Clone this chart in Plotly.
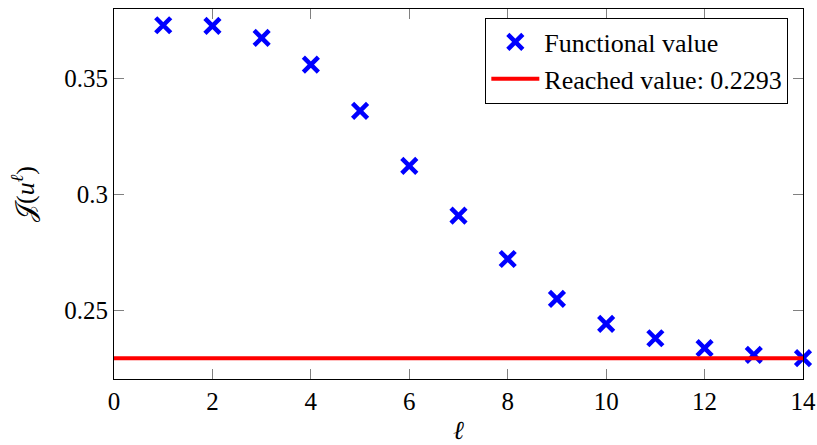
import plotly.graph_objects as go

iterations = [1, 2, 3, 4, 5, 6, 7, 8, 9, 10, 11, 12, 13, 14]
functional_values = [0.3730, 0.3727, 0.3675, 0.3560, 0.3360, 0.3123, 0.2908,
                     0.2721, 0.2549, 0.2441, 0.2379, 0.2336, 0.2307, 0.2293]
reached_value = 0.2293
x_range = [0, 14]
y_range = [0.2203, 0.3800]
x_ticks = [0, 2, 4, 6, 8, 10, 12, 14]
y_ticks = [0.25, 0.3, 0.35]
y_tick_labels = ["0.25", "0.3", "0.35"]

FONT = "Liberation Serif, DejaVu Serif, serif"

fig = go.Figure()
fig.add_trace(go.Scatter(
    x=iterations, y=functional_values, mode="markers",
    name="Functional value",
    marker=dict(symbol="x-thin", size=15, color="#0000ff",
                line=dict(width=4.5, color="#0000ff")),
    cliponaxis=False,
))
fig.add_trace(go.Scatter(
    x=x_range, y=[reached_value, reached_value], mode="lines",
    name=f"Reached value: {reached_value}",
    line=dict(color="#ff0000", width=4),
    cliponaxis=True,
))

axis_common = dict(
    showgrid=False, zeroline=False, showline=True, linecolor="#000000",
    linewidth=1.2, mirror="allticks", ticks="inside", ticklen=10,
    tickcolor="#808080", tickwidth=1, automargin=False,
    tickfont=dict(family=FONT, size=25, color="#000000"),
)

fig.update_layout(
    width=817, height=445,
    margin=dict(l=114, r=14, t=9, b=66),
    paper_bgcolor="white", plot_bgcolor="white",
    font=dict(family=FONT, size=25, color="#000000"),
    xaxis=dict(range=x_range, tickvals=x_ticks,
               title=dict(text="<i>ℓ</i>", standoff=8,
                          font=dict(family=FONT, size=26)),
               **axis_common),
    yaxis=dict(range=y_range, tickvals=y_ticks, ticktext=y_tick_labels,
               title=dict(text="𝒥(<i>u</i><sup><i>ℓ</i></sup>)", standoff=22,
                          font=dict(family=FONT, size=26)),
               **axis_common),
    legend=dict(x=0.9787, xanchor="right", y=0.977, yanchor="top",
                bgcolor="white", bordercolor="#000000", borderwidth=1,
                font=dict(family=FONT, size=26), tracegroupgap=0,
                itemwidth=48),
    showlegend=True,
)

fig.write_html("out.html")
